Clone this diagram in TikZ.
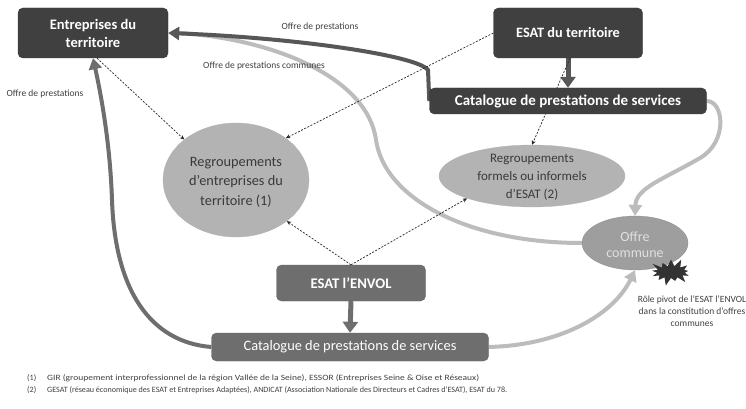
\documentclass[tikz,border=0pt]{standalone}
\usepackage{fontspec}
\usepackage{graphicx}
\setmainfont{Carlito}
\usetikzlibrary{arrows.meta,shapes.geometric,shapes.symbols}
\definecolor{dk}{HTML}{404040}
\definecolor{md}{HTML}{6E6E6E}
\definecolor{lt}{HTML}{BCBCBC}
\definecolor{el}{HTML}{B3B3B3}
\definecolor{tx}{HTML}{3A3A3A}
\definecolor{dkline}{HTML}{575757}
\pgfdeclarelayer{back}
\pgfdeclarelayer{bg}
\pgfsetlayers{back,bg,main}
\begin{document}
\begin{tikzpicture}[x=1pt,y=-1pt,
  darkbox/.style={draw=black!80, line width=0.4pt, fill=dk, rounded corners=5pt, text=white, align=center, inner sep=0pt},
  medbox/.style={draw=black!60, line width=0.4pt, fill=md, rounded corners=5pt, text=white, align=center, inner sep=0pt},
  ell/.style={ellipse, fill=el, draw=black!30, line width=0.3pt, inner sep=0pt},
  elltext/.style={text=tx, align=center, inner sep=0pt},
  small/.style={text=black!75, font=\fontsize{9.5}{12}\selectfont, inner sep=0pt, align=center},
  foot/.style={text=black!75, font=\fontsize{8.1}{10}\selectfont, inner sep=0pt, anchor=west},
  dasharrow/.style={black!85, line width=0.7pt, dash pattern=on 2pt off 1.5pt, -{Stealth[length=4.5pt,width=4pt]}},
  curve/.style={line width=4pt},
  tip/.style={-{Triangle[width=13pt,length=11pt]}},
  bigtip/.style={-{Triangle[width=15pt,length=11pt]}}
]
\begin{pgfonlayer}{back}
\fill[white] (0,0) rectangle (746,409);
\end{pgfonlayer}
\useasboundingbox (0,0) rectangle (746,409);

% nodes
\node[darkbox, minimum width=150pt, minimum height=50pt, font=\fontsize{14.5}{18}\selectfont\bfseries] (ent) at (93,33) {Entreprises du\\territoire};
\node[darkbox, minimum width=149pt, minimum height=50pt, font=\fontsize{14.3}{16}\selectfont\bfseries] (esat) at (568,33) {ESAT du territoire};
\node[darkbox, minimum width=277pt, minimum height=26pt, font=\fontsize{15}{16}\selectfont\bfseries] (cat1) at (568,101) {Catalogue de prestations de services};

\node[ell, minimum width=146pt, minimum height=114pt] (reg1) at (236,180) {};
\node[elltext, font=\fontsize{14.3}{19.5}\selectfont] (reg1t) at (236,182) {Regroupements\\d’entreprises du\\territoire (1)};

\node[ell, minimum width=186pt, minimum height=62pt] (reg2) at (532,176) {};
\node[elltext, font=\fontsize{13}{18}\selectfont] (reg2t) at (532,177) {Regroupements\\formels ou informels\\d’ESAT (2)};

\node[ell, fill=black!38, draw=black!45, minimum width=106pt, minimum height=54pt] (offre) at (635,243) {};
\node[elltext, text=black!12, font=\fontsize{14}{16}\selectfont] (offret) at (635,245) {Offre\\commune};

\node[starburst, starburst points=13, starburst point height=9pt, fill=black!80, draw=none, minimum width=46pt, minimum height=30pt, inner sep=0pt] (star) at (671,272) {};

\node[medbox, minimum width=149pt, minimum height=36pt, font=\fontsize{14.7}{16}\selectfont\bfseries] (envol) at (351,283) {ESAT l’ENVOL};
\node[medbox, minimum width=277pt, minimum height=28pt, font=\fontsize{14.4}{16}\selectfont] (cat2) at (350,347) {Catalogue de prestations de services};

% labels
\node[small] (l1) at (320,27) {Offre de prestations};
\node[small] (l2) at (264,66) {Offre de prestations communes};
\node[small] (l3) at (45,94) {Offre de prestations};
\node[small] (l4) at (692,311) {Rôle pivot de l’ESAT l’ENVOL\\dans la constitution d’offres\\communes};

\node[foot] (f1n) at (27,378) {(1)};
\node[foot] (f1) at (47,378) {\resizebox{432pt}{\height}{GIR (groupement interprofessionnel de la région Vallée de la Seine), ESSOR (Entreprises Seine \& Oise et Réseaux)}};
\node[foot] (f2n) at (27,390) {(2)};
\node[foot] (f2) at (47,390) {\resizebox{460pt}{\height}{GESAT (réseau économique des ESAT et Entreprises Adaptées), ANDICAT (Association Nationale des Directeurs et Cadres d’ESAT), ESAT du 78.}};

\begin{pgfonlayer}{bg}
% light curves
\draw[curve, lt] (offre.west) .. controls (470,243) and (385,200) .. (376,140) .. controls (368,80) and (280,40) .. ([xshift=12pt]ent.east);
\draw[curve, lt, tip] (cat1.east) .. controls (724,101) and (728,142) .. (700,158) .. controls (662,180) and (636,188) .. (offre.north);
\draw[curve, lt, tip] (cat2.east) .. controls (565,345) and (615,312) .. (offre.south);
% medium curve
\draw[curve, md, tip] (cat2.west) .. controls (150,342) and (115,290) .. (112,200) .. controls (110,140) and (100,90) .. (ent.south);
% dark curve
\draw[curve, dkline, tip] (cat1.west) -- (428,70) .. controls (418,56) and (300,38) .. (ent.east);
% straight arrows
\draw[line width=5pt, dkline, bigtip] (esat.south) -- (cat1.north);
\draw[line width=5pt, md, bigtip] (envol.south) -- (cat2.north);
% dashed
\draw[dasharrow] ([xshift=4pt]ent.south) -- (reg1.142);
\draw[dasharrow] (esat.west) -- (reg1.40);
\draw[dasharrow] ([xshift=2pt]esat.south) -- (reg2.north);
\draw[dasharrow] (envol.north) -- (reg1.321);
\draw[dasharrow] (envol.north) -- (reg2.199);
\end{pgfonlayer}
\end{tikzpicture}
\end{document}
